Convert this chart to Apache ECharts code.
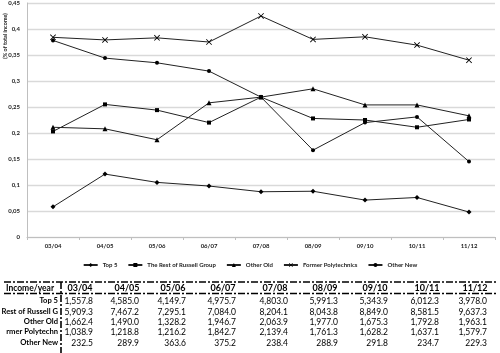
<!DOCTYPE html>
<html>
<head>
<meta charset="utf-8">
<script src="https://cdn.jsdelivr.net/npm/echarts@6/dist/echarts.min.js"></script>
<style>
html, body { margin: 0; padding: 0; background: #fff; }
#main { width: 500px; height: 353px; }
</style>
</head>
<body>
<div id="main"></div>
<script>
// categories (years)
const years = ['03/04', '04/05', '05/06', '06/07', '07/08', '08/09', '09/10', '10/11', '11/12'];

// share of total income
const top5 = [0.058, 0.121, 0.105, 0.098, 0.087, 0.088, 0.071, 0.076, 0.048];
const restRussell = [0.203, 0.255, 0.244, 0.220, 0.269, 0.228, 0.225, 0.211, 0.226];
const otherOld = [0.211, 0.208, 0.187, 0.258, 0.269, 0.285, 0.254, 0.254, 0.233];
const formerPoly = [0.384, 0.379, 0.383, 0.375, 0.425, 0.380, 0.385, 0.369, 0.340];
const otherNew = [0.378, 0.344, 0.335, 0.319, 0.269, 0.167, 0.220, 0.231, 0.145];

// table below the chart (income per year)
const tableHeader = 'Income/year';
const rowLabels = ['Top 5', 'Rest of Russell G', 'Other Old', 'rmer Polytechn', 'Other New'];
const incTop5 = [1557.8, 4585.0, 4149.7, 4975.7, 4803.0, 5991.3, 5343.9, 6012.3, 3978.0];
const incRussell = [5909.3, 7467.2, 7295.1, 7084.0, 8204.1, 8043.8, 8849.0, 8581.5, 9637.3];
const incOtherOld = [1662.4, 1490.0, 1328.2, 1946.7, 2063.9, 1977.0, 1675.3, 1792.8, 1963.1];
const incFormerPoly = [1038.9, 1218.8, 1216.2, 1842.7, 2139.4, 1761.3, 1628.2, 1637.1, 1579.7];
const incOtherNew = [232.5, 289.9, 363.6, 375.2, 238.4, 288.9, 291.8, 234.7, 229.3];

const crossPath = 'path://M0,1L1,0L5,4L9,0L10,1L6,5L10,9L9,10L5,6L1,10L0,9L4,5Z';

let myChart = echarts.init(document.getElementById('main'));

function lineSeries(name, data, symbol, size) {
    return {
        name: name,
        type: 'line',
        data: data,
        symbol: symbol,
        symbolSize: size,
        showSymbol: true,
        lineStyle: { color: '#222', width: 1 },
        itemStyle: { color: '#000' },
        emphasis: { disabled: true }
    };
}

// table built as graphic elements
const tableFont = 'Lato, "Open Sans", sans-serif';
const colRight = [93, 139, 186, 236, 288, 338, 388, 439, 487];
const colCenter = [80, 127, 173, 223, 275, 325, 375, 427, 475];
const rowY = [301, 312, 322, 332, 343];
const rowValues = [incTop5, incRussell, incOtherOld, incFormerPoly, incOtherNew];
const dashStyle = { stroke: '#000', lineWidth: 1.6, lineDash: [7, 2, 2, 2] };

function fmt(v) {
    return v.toLocaleString('en-US', { minimumFractionDigits: 1, maximumFractionDigits: 1 });
}

let tableEls = [];
tableEls.push({ type: 'line', shape: { x1: 4, y1: 282, x2: 496, y2: 282 }, style: dashStyle });
tableEls.push({ type: 'line', shape: { x1: 4, y1: 293.5, x2: 496, y2: 293.5 }, style: dashStyle });
tableEls.push({ type: 'line', shape: { x1: 61, y1: 282, x2: 61, y2: 353 }, style: dashStyle });
tableEls.push({
    type: 'text', x: 30, y: 288,
    style: { text: tableHeader, font: 'bold 8.5px ' + tableFont, fill: '#000', textAlign: 'center', textVerticalAlign: 'middle' }
});
years.forEach((y, i) => {
    tableEls.push({
        type: 'text', x: colCenter[i], y: 288,
        style: { text: y, font: 'bold 9px ' + tableFont, fill: '#000', textAlign: 'center', textVerticalAlign: 'middle' }
    });
});
rowLabels.forEach((lab, r) => {
    tableEls.push({
        type: 'text', x: 58, y: rowY[r],
        style: { text: lab, font: 'bold 7.6px ' + tableFont, fill: '#000', textAlign: 'right', textVerticalAlign: 'middle' }
    });
    rowValues[r].forEach((v, i) => {
        tableEls.push({
            type: 'text', x: colRight[i], y: rowY[r],
            style: { text: fmt(v), font: '8.5px ' + tableFont, fill: '#000', textAlign: 'right', textVerticalAlign: 'middle' }
        });
    });
});
// y axis title
tableEls.push({
    type: 'text', x: 5, y: 36, rotation: Math.PI / 2,
    style: { text: '(% of total income)', font: 'bold 5.5px ' + tableFont, fill: '#222', textAlign: 'center', textVerticalAlign: 'middle' }
});

myChart.setOption({
    animation: false,
    backgroundColor: '#fff',
    grid: { left: 27, right: 5, top: 3, bottom: 116, containLabel: false },
    legend: {
        top: 257,
        left: 'center',
        itemGap: 10,
        itemWidth: 14,
        itemHeight: 5,
        textStyle: { fontSize: 6, fontWeight: 'bold', color: '#222', fontFamily: tableFont },
        data: ['Top 5', 'The Rest of Russell Group', 'Other Old', 'Former Polytechnics', 'Other New']
    },
    xAxis: {
        type: 'category',
        data: years,
        boundaryGap: true,
        axisLine: { lineStyle: { color: '#bfbfbf', width: 1 } },
        axisTick: { show: true, length: 3, lineStyle: { color: '#bfbfbf' } },
        axisLabel: { fontSize: 6, fontWeight: 'bold', color: '#222', margin: 6, fontFamily: tableFont }
    },
    yAxis: {
        type: 'value',
        min: 0,
        max: 0.45,
        interval: 0.05,
        axisLine: { show: true, lineStyle: { color: '#bfbfbf', width: 1 } },
        axisTick: { show: false },
        splitLine: { lineStyle: { color: '#d9d9d9', width: 1.3 } },
        axisLabel: {
            fontSize: 6, fontWeight: 'bold', color: '#222', margin: 7, fontFamily: tableFont,
            formatter: v => (Math.round(v * 100) / 100).toString().replace('.', ',')
        }
    },
    series: [
        lineSeries('Top 5', top5, 'diamond', 5),
        lineSeries('The Rest of Russell Group', restRussell, 'rect', 4),
        lineSeries('Other Old', otherOld, 'triangle', 5),
        lineSeries('Former Polytechnics', formerPoly, crossPath, 6),
        lineSeries('Other New', otherNew, 'circle', 4)
    ],
    graphic: tableEls
});
</script>
</body>
</html>
